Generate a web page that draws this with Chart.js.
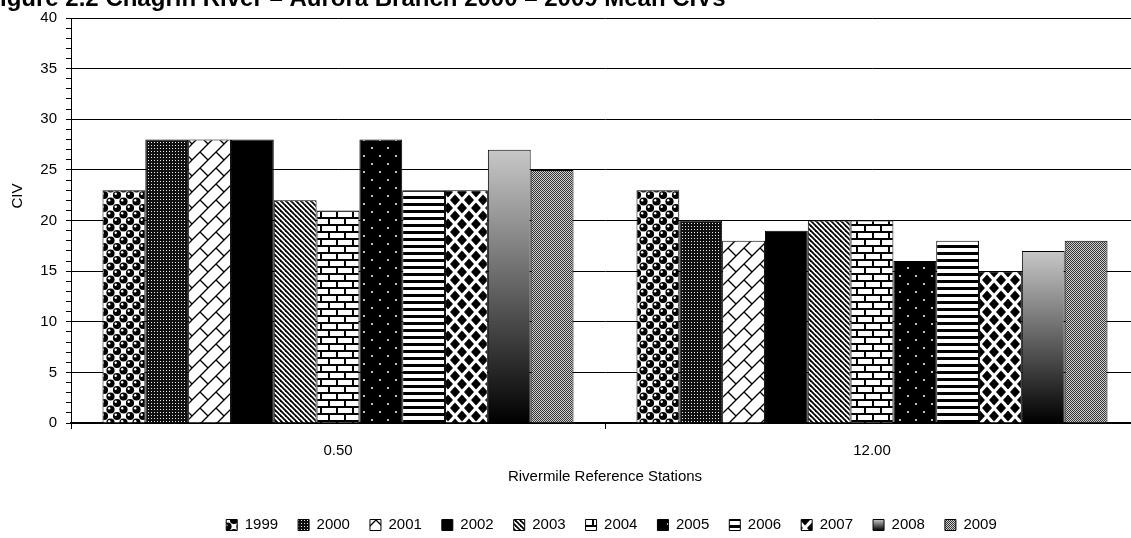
<!DOCTYPE html>
<html>
<head>
<meta charset="utf-8">
<script src="https://cdn.jsdelivr.net/npm/chart.js@4/dist/chart.umd.min.js"></script>
<style>
  html, body { margin: 0; padding: 0; overflow: hidden; background: #fff; width: 1131px; height: 538px; }
  canvas { display: block; }
</style>
</head>
<body>
<canvas id="c" width="1150" height="545"></canvas>
<script>
// Rivermile reference stations on the x axis
const stations = ['0.50', '12.00'];
// Sampling years, one bar per year in each station group
const years = ['1999', '2000', '2001', '2002', '2003', '2004', '2005', '2006', '2007', '2008', '2009'];
// Mean CIV per year at each station
const civAtRm050 = [23, 28, 28, 28, 22, 21, 28, 23, 23, 27, 25];
const civAtRm1200 = [23, 20, 18, 19, 20, 20, 16, 18, 15, 17, 18];
// Value axis range and labelled step
const civAxisMax = 40;
const civLabelStep = 5;

const chartTitle = 'Figure 2.2 Chagrin River \u2013 Aurora Branch 2000 \u2013 2009 Mean CIVs';
const yTitle = 'CIV';
const xTitle = 'Rivermile Reference Stations';

const FONT = '"Liberation Sans", Arial, Helvetica, sans-serif';
const canvas = document.getElementById('c');
const ctx = canvas.getContext('2d');

// Small repeating tiles used as fills for each year's bars
function makePattern(w, h, paint) {
  const t = document.createElement('canvas');
  t.width = w; t.height = h;
  const g = t.getContext('2d');
  g.fillStyle = '#fff';
  g.fillRect(0, 0, w, h);
  paint(g, w, h);
  return ctx.createPattern(t, 'repeat');
}
function seg(g, x1, y1, x2, y2) {
  g.beginPath(); g.moveTo(x1, y1); g.lineTo(x2, y2); g.stroke();
}

const fills = [
  // spheres
  makePattern(13, 13, (g) => {
    const ball = (x, y) => {
      g.fillStyle = '#000';
      g.beginPath(); g.arc(x, y, 4.1, 0, Math.PI * 2); g.fill();
      g.fillStyle = '#fff';
      g.beginPath(); g.arc(x - 1.3, y - 1.3, 1.2, 0, Math.PI * 2); g.fill();
    };
    ball(6.5, 6.5);
    [[0, 0], [13, 0], [0, 13], [13, 13]].forEach(([x, y]) => ball(x, y));
  }),
  // dense dotted grid
  makePattern(3, 3, (g) => {
    g.fillStyle = '#111'; g.fillRect(0, 0, 3, 3);
    g.fillStyle = '#eee'; g.fillRect(1, 1, 1, 1);
  }),
  // diagonal brick
  makePattern(16, 16, (g) => {
    g.strokeStyle = '#000'; g.lineWidth = 1.3;
    seg(g, -1, 17, 17, -1);
    seg(g, -2, 2, 2, -2);
    seg(g, 14, 18, 18, 14);
    seg(g, 8, 8, 16, 16);
  }),
  // solid black
  '#000',
  // wide downward diagonal stripes
  makePattern(5, 5, (g) => {
    g.strokeStyle = '#000'; g.lineWidth = 1.8;
    [-5, 0, 5].forEach((c) => seg(g, -1, c - 1, 6, c + 6));
  }),
  // horizontal brick
  makePattern(16, 14, (g) => {
    g.fillStyle = '#000';
    g.fillRect(0, 0, 16, 2);
    g.fillRect(0, 7, 16, 2);
    g.fillRect(0, 0, 2, 7);
    g.fillRect(8, 7, 2, 7);
  }),
  // black with sparse light dots
  makePattern(16, 16, (g) => {
    g.fillStyle = '#000'; g.fillRect(0, 0, 16, 16);
    g.fillStyle = '#fff';
    g.beginPath(); g.arc(4, 4, 1, 0, Math.PI * 2); g.fill();
    g.beginPath(); g.arc(12, 12, 1, 0, Math.PI * 2); g.fill();
  }),
  // horizontal stripes
  makePattern(1, 7, (g) => {
    g.fillStyle = '#000'; g.fillRect(0, 0, 1, 3);
  }),
  // diamonds
  makePattern(14, 16, (g) => {
    g.fillStyle = '#000';
    const d = (x, y) => {
      g.beginPath();
      g.moveTo(x - 5, y); g.lineTo(x, y - 5.5); g.lineTo(x + 5, y); g.lineTo(x, y + 5.5);
      g.closePath(); g.fill();
    };
    d(0, 0); d(14, 0); d(0, 16); d(14, 16); d(7, 8);
  }),
  // gradient (built per bar below)
  null,
  // fine checker
  makePattern(2, 2, (g) => {
    g.fillStyle = '#333'; g.fillRect(0, 0, 1, 1); g.fillRect(1, 1, 1, 1);
    g.fillStyle = '#d0d0d0'; g.fillRect(1, 0, 1, 1); g.fillRect(0, 1, 1, 1);
  })
];

function verticalShade(c2d, top, bottom) {
  const gr = c2d.createLinearGradient(0, top, 0, bottom);
  gr.addColorStop(0, '#c8c8c8');
  gr.addColorStop(1, '#000');
  return gr;
}

// 2008 bars: light grey at the top fading to black at the baseline
fills[9] = (c) => {
  if (c.type !== 'data') return '#7a7a7a';
  const y = c.chart.scales.y;
  if (!y) return '#7a7a7a';
  const top = y.getPixelForValue(c.raw);
  const base = y.getPixelForValue(0);
  if (!Number.isFinite(top) || !Number.isFinite(base) || top === base) return '#7a7a7a';
  return verticalShade(c.chart.ctx, top, base);
};

const datasets = years.map((yr, i) => ({
  label: yr,
  data: [civAtRm050[i], civAtRm1200[i]],
  backgroundColor: fills[i],
  borderColor: '#000',
  borderWidth: 1,
  categoryPercentage: 0.882,
  barPercentage: 1.0
}));

const decorations = {
  id: 'decorations',
  afterLayout(chart) {
    // legend row sits a little right of the canvas centre
    const lg = chart.legend;
    if (lg) { lg.left += 42; lg.right += 42; }
  },
  beforeDraw(chart) {
    // legend swatch for the shaded series
    const lg = chart.legend;
    if (lg && lg.legendHitBoxes && lg.legendItems && lg.legendHitBoxes[9]) {
      const hb = lg.legendHitBoxes[9];
      const box = lg.options.labels.boxHeight;
      const top = hb.top + (hb.height - box) / 2;
      if (Number.isFinite(top)) {
        lg.legendItems[9].fillStyle = verticalShade(chart.ctx, top, top + box);
      }
    }
  },
  afterDraw(chart) {
    const c = chart.ctx;
    c.save();
    c.fillStyle = '#000';
    c.font = 'bold 24px ' + FONT;
    c.textAlign = 'left';
    c.textBaseline = 'alphabetic';
    const lead = c.measureText('F').width;
    c.fillText(chartTitle, 0 - lead, 6);

    c.font = '15px ' + FONT;
    c.translate(18, 196);
    c.rotate(-Math.PI / 2);
    c.textAlign = 'center';
    c.textBaseline = 'middle';
    c.fillText(yTitle, 0, 0);
    c.restore();
  }
};

Chart.defaults.font.family = FONT;
Chart.defaults.font.size = 15;
Chart.defaults.color = '#000';

new Chart(ctx, {
  type: 'bar',
  data: { labels: stations, datasets },
  options: {
    responsive: false,
    animation: false,
    events: [],
    layout: { padding: { left: 0, right: 11, top: 18, bottom: 2.5 } },
    scales: {
      x: {
        type: 'category',
        grid: { offset: true, drawOnChartArea: false, tickLength: 6, color: '#000', tickColor: '#000' },
        border: { color: '#000', width: 2 },
        ticks: { padding: 13, font: { size: 15 }, maxRotation: 0 },
        title: { display: true, text: xTitle, font: { size: 15 }, padding: { top: 4, bottom: 11.5 } },
        afterFit(s) { s.height = 74.5; }
      },
      y: {
        min: 0,
        max: civAxisMax,
        grid: {
          color: (c) => (c.tick && c.tick.value % civLabelStep === 0 ? '#000' : 'rgba(0,0,0,0)'),
          tickColor: '#000',
          tickLength: 5,
          lineWidth: 1
        },
        border: { color: '#000', width: 1 },
        ticks: {
          stepSize: 1,
          autoSkip: false,
          padding: 9,
          font: { size: 15 },
          callback: (v) => (v % civLabelStep === 0 ? String(v) : '')
        },
        afterFit(s) { s.width = 71; }
      }
    },
    plugins: {
      legend: {
        position: 'bottom',
        labels: { boxWidth: 11, boxHeight: 11, padding: 20, font: { size: 15 }, color: '#000' }
      },
      tooltip: { enabled: false },
      title: { display: false }
    }
  },
  plugins: [decorations]
});
</script>
</body>
</html>
